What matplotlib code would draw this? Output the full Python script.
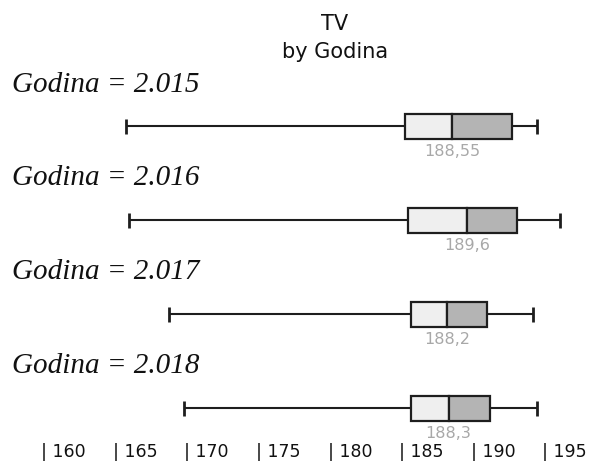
import matplotlib
matplotlib.use("Agg")
import matplotlib.pyplot as plt
import matplotlib.transforms as mtransforms

years = ["2.015", "2.016", "2.017", "2.018"]
whisker_low = [165.8, 166.0, 168.8, 169.8]
q1 = [185.25, 185.45, 185.7, 185.65]
median = [188.55, 189.6, 188.2, 188.3]
q3 = [192.75, 193.05, 190.95, 191.2]
whisker_high = [194.5, 196.1, 194.2, 194.5]
median_labels = ["188,55", "189,6", "188,2", "188,3"]
tick_values = [160, 165, 170, 175, 180, 185, 190, 195]

W, H = 612, 461
fig = plt.figure(figsize=(W / 100, H / 100), dpi=100)
ax = fig.add_axes([0, 0, 1, 1])
px_per_unit = 14.32
x0_px = 43.3
ax.set_xlim(160 - x0_px / px_per_unit, 160 + (W - x0_px) / px_per_unit)
ax.set_ylim(H, 0)
ax.axis("off")

sans = ["DejaVu Sans"]
serif = ["Liberation Serif", "DejaVu Serif"]

ax.text(335 / W, 1 - 24 / H, "TV", transform=ax.transAxes, ha="center", va="center",
        fontsize=15, family=sans, color="#111111")
ax.text(335 / W, 1 - 52 / H, "by Godina", transform=ax.transAxes, ha="center", va="center",
        fontsize=15, family=sans, color="#111111")

row_centers = [126.5, 220.3, 314.4, 408.3]
box_h = 25.5
cap_h = 15
edge = "#1e1e1e"

for i, yr in enumerate(years):
    yc = row_centers[i]
    ax.text(12 / W, 1 - (yc - 42) / H, f"Godina = {yr}", transform=ax.transAxes,
            ha="left", va="center", fontsize=21, family=serif, style="italic", color="#111111")
    ax.hlines(yc, whisker_low[i], q1[i], color=edge, lw=1.5, zorder=2)
    ax.hlines(yc, q3[i], whisker_high[i], color=edge, lw=1.5, zorder=2)
    ax.vlines([whisker_low[i], whisker_high[i]], yc - cap_h / 2, yc + cap_h / 2,
              color=edge, lw=2.0, zorder=2)
    ax.barh(yc, median[i] - q1[i], left=q1[i], height=box_h, color="#efefef",
            edgecolor=edge, linewidth=1.6, zorder=3)
    ax.barh(yc, q3[i] - median[i], left=median[i], height=box_h, color="#b4b4b4",
            edgecolor=edge, linewidth=1.6, zorder=3)
    ax.text(median[i], yc + 25, median_labels[i], ha="center", va="center",
            fontsize=11.5, family=sans, color="#a8a8a8")

offset = mtransforms.offset_copy(ax.transData, fig=fig, x=-2, y=0, units="dots")
for v in tick_values:
    ax.text(v, 451.5, f"| {v}", transform=offset, ha="left", va="center",
            fontsize=12.5, family=sans, color="#111111")

fig.savefig("out.png", dpi=100)
